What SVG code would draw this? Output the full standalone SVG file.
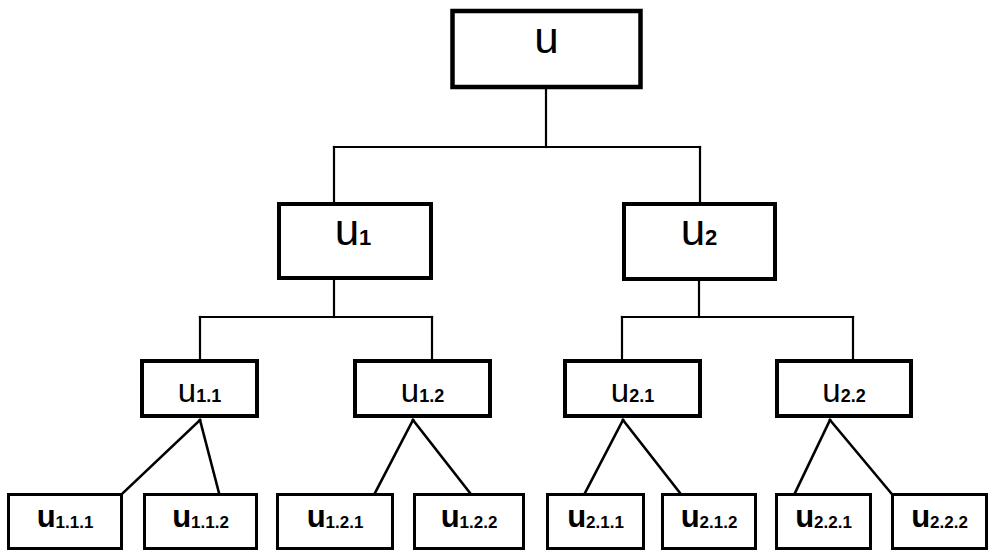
<svg xmlns="http://www.w3.org/2000/svg" width="990" height="552" viewBox="0 0 990 552">
<style>
.bg{fill:#fff}
.n{fill:#fff;stroke:#000}
.big{stroke-width:4.5}
.mid{stroke-width:4}
.leaf{stroke-width:3}
.c line{stroke:#000;stroke-width:2.2;stroke-linecap:square}
.c .d{stroke-width:2.6}
text{font-family:"Liberation Sans",Arial,sans-serif;fill:#000;text-anchor:middle}
.t1{font-size:44px}
.t3{font-size:33px}
.t4{font-size:31px;font-weight:bold}
.s2{font-size:22px;font-weight:bold}
.s3{font-size:18px;font-weight:bold}
.s4{font-size:17px;font-weight:bold}
</style>
<rect class="bg" width="990" height="552"/>
<g class="c" id="connectors">
<line x1="546" y1="89" x2="546" y2="147"/>
<line x1="334" y1="147" x2="700" y2="147"/>
<line x1="334" y1="147" x2="334" y2="202"/>
<line x1="700" y1="147" x2="700" y2="202"/>
<line x1="334" y1="280" x2="334" y2="317"/>
<line x1="200" y1="317" x2="432" y2="317"/>
<line x1="200" y1="317" x2="200" y2="359"/>
<line x1="432" y1="317" x2="432" y2="359"/>
<line x1="699" y1="281" x2="699" y2="317"/>
<line x1="622" y1="317" x2="853" y2="317"/>
<line x1="622" y1="317" x2="622" y2="359"/>
<line x1="853" y1="317" x2="853" y2="359"/>
<line class="d" x1="200" y1="420" x2="123" y2="493"/>
<line class="d" x1="200" y1="420" x2="219" y2="493"/>
<line class="d" x1="413" y1="420" x2="375" y2="493"/>
<line class="d" x1="413" y1="420" x2="470" y2="493"/>
<line class="d" x1="623" y1="420" x2="585" y2="493"/>
<line class="d" x1="623" y1="420" x2="680" y2="493"/>
<line class="d" x1="830" y1="420" x2="795" y2="493"/>
<line class="d" x1="830" y1="420" x2="891" y2="493"/>
</g>
<g id="u"><rect class="n big" x="452.5" y="11" width="188" height="76"/><text class="t1" x="546.5" y="53">u</text></g>
<g id="u1"><rect class="n mid" x="279" y="204" width="152" height="74"/><text class="t1" x="353" y="245">u<tspan class="s2">1</tspan></text></g>
<g id="u2"><rect class="n mid" x="624" y="204" width="151" height="75"/><text class="t1" x="699" y="245">u<tspan class="s2">2</tspan></text></g>
<g id="u11"><rect class="n mid" x="142" y="361" width="115" height="55"/><text class="t3" x="199.5" y="402">u<tspan class="s3">1.1</tspan></text></g>
<g id="u12"><rect class="n mid" x="355" y="361" width="135" height="55"/><text class="t3" x="422.5" y="402">u<tspan class="s3">1.2</tspan></text></g>
<g id="u21"><rect class="n mid" x="565" y="361" width="135" height="55"/><text class="t3" x="632.5" y="402">u<tspan class="s3">2.1</tspan></text></g>
<g id="u22"><rect class="n mid" x="777" y="361" width="134" height="55"/><text class="t3" x="844" y="402">u<tspan class="s3">2.2</tspan></text></g>
<g id="u111"><rect class="n leaf" x="8.5" y="494.5" width="113" height="54"/><text class="t4" x="65" y="527">u<tspan class="s4" dy="1">1.1.1</tspan></text></g>
<g id="u112"><rect class="n leaf" x="144.5" y="494.5" width="112" height="54"/><text class="t4" x="200.5" y="527">u<tspan class="s4" dy="1">1.1.2</tspan></text></g>
<g id="u121"><rect class="n leaf" x="277.5" y="494.5" width="115" height="54"/><text class="t4" x="335" y="527">u<tspan class="s4" dy="1">1.2.1</tspan></text></g>
<g id="u122"><rect class="n leaf" x="414.5" y="494.5" width="109" height="54"/><text class="t4" x="469" y="527">u<tspan class="s4" dy="1">1.2.2</tspan></text></g>
<g id="u211"><rect class="n leaf" x="547.5" y="494.5" width="96" height="54"/><text class="t4" x="595.5" y="527">u<tspan class="s4" dy="1">2.1.1</tspan></text></g>
<g id="u212"><rect class="n leaf" x="662.5" y="494.5" width="93" height="54"/><text class="t4" x="709" y="527">u<tspan class="s4" dy="1">2.1.2</tspan></text></g>
<g id="u221"><rect class="n leaf" x="776.5" y="494.5" width="94" height="54"/><text class="t4" x="823.5" y="527">u<tspan class="s4" dy="1">2.2.1</tspan></text></g>
<g id="u222"><rect class="n leaf" x="892.5" y="494.5" width="94" height="54"/><text class="t4" x="939.5" y="527">u<tspan class="s4" dy="1">2.2.2</tspan></text></g>
</svg>
